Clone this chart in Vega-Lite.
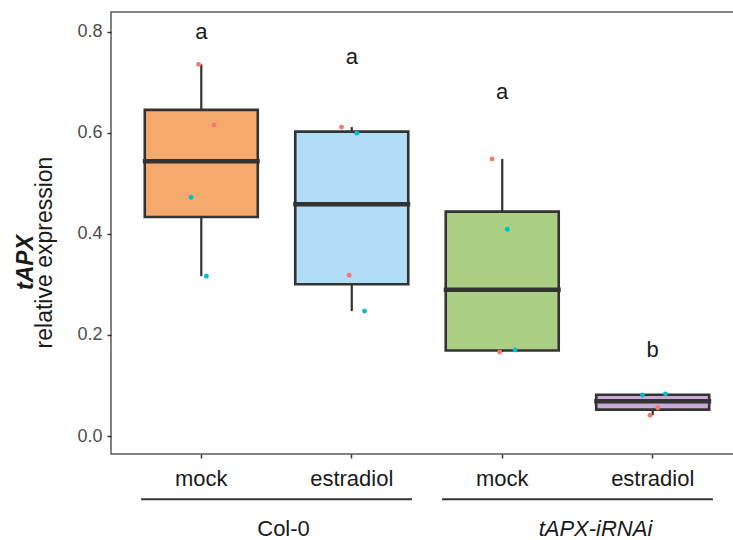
{
  "$schema": "https://vega.github.io/schema/vega-lite/v6.json",
  "autosize": {"type": "none"},
  "padding": {"left": 111, "top": 12, "right": -10, "bottom": 86},
  "width": 632,
  "height": 442,
  "background": "white",
  "config": {
    "font": "Liberation Sans",
    "view": {"stroke": "#5a5a5a", "strokeWidth": 1.5},
    "axis": {"grid": false, "domain": false}
  },
  "datasets": {
    "samples": [
      {"group": "Col-0|mock", "genotype": "Col-0", "treatment": "mock", "batch": "1", "rep": "r2", "value": 0.735},
      {"group": "Col-0|mock", "genotype": "Col-0", "treatment": "mock", "batch": "1", "rep": "r4", "value": 0.615},
      {"group": "Col-0|mock", "genotype": "Col-0", "treatment": "mock", "batch": "2", "rep": "r1", "value": 0.472},
      {"group": "Col-0|mock", "genotype": "Col-0", "treatment": "mock", "batch": "2", "rep": "r3", "value": 0.316},
      {"group": "Col-0|estradiol", "genotype": "Col-0", "treatment": "estradiol", "batch": "1", "rep": "r1", "value": 0.611},
      {"group": "Col-0|estradiol", "genotype": "Col-0", "treatment": "estradiol", "batch": "2", "rep": "r3", "value": 0.599},
      {"group": "Col-0|estradiol", "genotype": "Col-0", "treatment": "estradiol", "batch": "1", "rep": "r2", "value": 0.318},
      {"group": "Col-0|estradiol", "genotype": "Col-0", "treatment": "estradiol", "batch": "2", "rep": "r4", "value": 0.247},
      {"group": "tAPX-iRNAi|mock", "genotype": "tAPX-iRNAi", "treatment": "mock", "batch": "1", "rep": "r1", "value": 0.548},
      {"group": "tAPX-iRNAi|mock", "genotype": "tAPX-iRNAi", "treatment": "mock", "batch": "2", "rep": "r3", "value": 0.409},
      {"group": "tAPX-iRNAi|mock", "genotype": "tAPX-iRNAi", "treatment": "mock", "batch": "1", "rep": "r2", "value": 0.166},
      {"group": "tAPX-iRNAi|mock", "genotype": "tAPX-iRNAi", "treatment": "mock", "batch": "2", "rep": "r4", "value": 0.170},
      {"group": "tAPX-iRNAi|estradiol", "genotype": "tAPX-iRNAi", "treatment": "estradiol", "batch": "2", "rep": "r1", "value": 0.081},
      {"group": "tAPX-iRNAi|estradiol", "genotype": "tAPX-iRNAi", "treatment": "estradiol", "batch": "2", "rep": "r4", "value": 0.083},
      {"group": "tAPX-iRNAi|estradiol", "genotype": "tAPX-iRNAi", "treatment": "estradiol", "batch": "1", "rep": "r3", "value": 0.056},
      {"group": "tAPX-iRNAi|estradiol", "genotype": "tAPX-iRNAi", "treatment": "estradiol", "batch": "1", "rep": "r2", "value": 0.041}
    ],
    "letters": [
      {"group": "Col-0|mock", "letter": "a", "at": 0.8},
      {"group": "Col-0|estradiol", "letter": "a", "at": 0.75},
      {"group": "tAPX-iRNAi|mock", "letter": "a", "at": 0.68},
      {"group": "tAPX-iRNAi|estradiol", "letter": "b", "at": 0.17}
    ],
    "genotypes": [
      {"genotype": "Col-0", "first": "Col-0|mock", "last": "Col-0|estradiol"},
      {"genotype": "tAPX-iRNAi", "first": "tAPX-iRNAi|mock", "last": "tAPX-iRNAi|estradiol"}
    ]
  },
  "layer": [
    {
      "data": {"name": "samples"},
      "mark": {
        "type": "boxplot",
        "extent": "min-max",
        "size": 113,
        "box": {"stroke": "#333333", "strokeWidth": 2.6},
        "median": {"stroke": "#333333", "strokeWidth": 4, "thickness": 0.5, "opacity": 1},
        "rule": {"stroke": "#333333", "strokeWidth": 2.2}
      },
      "encoding": {
        "x": {
          "field": "group", "type": "nominal", "sort": null,
          "scale": {"domain": ["Col-0|mock", "Col-0|estradiol", "tAPX-iRNAi|mock", "tAPX-iRNAi|estradiol"], "paddingInner": 0, "paddingOuter": 0.1},
          "axis": {
            "title": null, "labelAngle": 0,
            "labelExpr": "split(datum.label, '|')[1]",
            "labelFontSize": 22, "labelColor": "#1a1a1a", "labelPadding": 10,
            "tickSize": 4, "tickColor": "#333333", "tickWidth": 1.5
          }
        },
        "y": {
          "field": "value", "type": "quantitative",
          "scale": {"domain": [-0.0356, 0.8386], "nice": false, "zero": false},
          "axis": {
            "values": [0, 0.2, 0.4, 0.6, 0.8], "format": ".1f",
            "labelFontSize": 18, "labelColor": "#4d4d4d", "labelPadding": 5,
            "tickSize": 4, "tickColor": "#333333", "tickWidth": 1.5,
            "title": "relative expression", "titleFontSize": 23, "titleFontWeight": "normal",
            "titleColor": "#1a1a1a", "titleX": -67, "titleY": 240, "titleBaseline": "middle"
          }
        },
        "fill": {
          "field": "group", "type": "nominal",
          "scale": {"domain": ["Col-0|mock", "Col-0|estradiol", "tAPX-iRNAi|mock", "tAPX-iRNAi|estradiol"], "range": ["#F4AA6C", "#B0DDF5", "#AACE84", "#C9A9D5"]},
          "legend": null
        }
      }
    },
    {
      "data": {"name": "samples"},
      "mark": {"type": "point", "filled": true, "opacity": 1, "size": 24},
      "encoding": {
        "x": {"field": "group", "type": "nominal", "sort": null},
        "xOffset": {"field": "rep", "type": "nominal", "scale": {"type": "point", "domain": ["r1", "r2", "r3", "r4"], "range": [65, 88], "padding": 0}},
        "y": {"field": "value", "type": "quantitative", "scale": {"domain": [-0.0356, 0.8386], "nice": false, "zero": false}, "axis": null},
        "color": {"field": "batch", "type": "nominal", "scale": {"domain": ["1", "2"], "range": ["#F8766D", "#00BFC4"]}, "legend": null}
      }
    },
    {
      "data": {"name": "letters"},
      "mark": {"type": "text", "fontSize": 22, "color": "#1a1a1a", "baseline": "middle"},
      "encoding": {
        "x": {"field": "group", "type": "nominal", "sort": null},
        "y": {
          "field": "at", "type": "quantitative",
          "scale": {"domain": [-0.0356, 0.8386], "nice": false, "zero": false},
          "axis": {
            "orient": "left", "labels": false, "ticks": false, "domain": false,
            "title": "tAPX", "titleFontSize": 23, "titleFontWeight": "bold", "titleFontStyle": "italic",
            "titleColor": "#1a1a1a", "titleX": -86, "titleY": 250, "titleBaseline": "middle"
          }
        },
        "text": {"field": "letter"}
      }
    },
    {
      "data": {"name": "genotypes"},
      "mark": {"type": "rule", "stroke": "#333333", "strokeWidth": 2},
      "encoding": {
        "x": {"field": "first", "type": "nominal", "bandPosition": 0.1},
        "x2": {"field": "last", "bandPosition": 0.9},
        "y": {"datum": -0.125, "type": "quantitative", "scale": {"domain": [-0.0356, 0.8386], "nice": false, "zero": false}, "axis": null}
      }
    },
    {
      "data": {"name": "genotypes"},
      "transform": [{"filter": "datum.genotype === 'Col-0'"}],
      "mark": {"type": "text", "fontSize": 22, "color": "#1a1a1a", "baseline": "alphabetic", "dx": 7},
      "encoding": {
        "x": {"field": "first", "type": "nominal", "bandPosition": 1},
        "y": {"datum": -0.198, "type": "quantitative", "scale": {"domain": [-0.0356, 0.8386], "nice": false, "zero": false}, "axis": null},
        "text": {"field": "genotype"}
      }
    },
    {
      "data": {"name": "genotypes"},
      "transform": [{"filter": "datum.genotype === 'tAPX-iRNAi'"}],
      "mark": {"type": "text", "fontSize": 22, "fontStyle": "italic", "color": "#1a1a1a", "baseline": "alphabetic", "dx": 18},
      "encoding": {
        "x": {"field": "first", "type": "nominal", "bandPosition": 1},
        "y": {"datum": -0.198, "type": "quantitative", "scale": {"domain": [-0.0356, 0.8386], "nice": false, "zero": false}, "axis": null},
        "text": {"field": "genotype"}
      }
    }
  ],
  "resolve": {"scale": {"color": "independent", "fill": "independent"}, "axis": {"y": "independent"}}
}
